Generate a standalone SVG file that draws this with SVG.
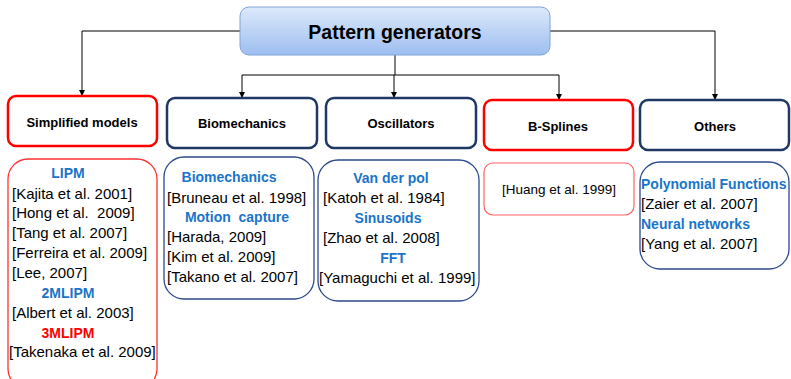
<svg xmlns="http://www.w3.org/2000/svg" width="791" height="379" viewBox="0 0 791 379">
<style>
text{font-family:"Liberation Sans",Arial,sans-serif;fill:#000}
.h2{font-size:13px;font-weight:bold;text-anchor:middle}
.ref{font-size:15px}
.hd{font-size:14px;font-weight:bold;fill:#1a75c9}
.mid{text-anchor:middle}
.navy2{fill:#fff;stroke:#1f3864;stroke-width:2.5}
.red2{fill:#fff;stroke:#ff0000;stroke-width:2.5}
.navy3{fill:#fff;stroke:#2b4a8b;stroke-width:1.3}
.red3{fill:#fff;stroke:#ff3030;stroke-width:1.3}
.conn{fill:none;stroke:#000;stroke-width:1}
</style>
<defs>
<linearGradient id="g" x1="0" y1="0" x2="0" y2="1">
<stop offset="0" stop-color="#dde9fb"/>
<stop offset="1" stop-color="#9dbef0"/>
</linearGradient>
<marker id="a" viewBox="0 0 10 10" refX="10" refY="5" markerWidth="6" markerHeight="6" orient="auto" markerUnits="userSpaceOnUse">
<path d="M0,0 L10,5 L0,10 z" fill="#000"/>
</marker>
</defs>
<g id="connectors">
<path class="conn" d="M240,31 H82 V96" marker-end="url(#a)"/>
<path class="conn" d="M550,31 H715 V100" marker-end="url(#a)"/>
<path class="conn" d="M395,55 V75"/>
<path class="conn" d="M242,75 H559"/>
<path class="conn" d="M242,75 V98" marker-end="url(#a)"/>
<path class="conn" d="M394,75 V98" marker-end="url(#a)"/>
<path class="conn" d="M559,75 V100" marker-end="url(#a)"/>
</g>
<g id="root">
<rect x="240" y="7" width="310" height="48" rx="9" fill="url(#g)" stroke="#7fa4d8" stroke-width="1"/>
<text x="395" y="39" font-size="19.5" font-weight="bold" text-anchor="middle">Pattern generators</text>
</g>
<g id="simplified">
<rect class="red2" x="8" y="96" width="149" height="50" rx="8"/>
<text class="h2" x="82" y="127">Simplified models</text>
</g>
<g id="biomechanics">
<rect class="navy2" x="167" y="98" width="150" height="50" rx="8"/>
<text class="h2" x="242" y="128">Biomechanics</text>
</g>
<g id="oscillators">
<rect class="navy2" x="326" y="98" width="150" height="50" rx="8"/>
<text class="h2" x="401" y="128">Oscillators</text>
</g>
<g id="bsplines">
<rect class="red2" x="484" y="100" width="149" height="50" rx="8"/>
<text class="h2" x="558" y="131">B-Splines</text>
</g>
<g id="others">
<rect class="navy2" x="640" y="100" width="149" height="50" rx="8"/>
<text class="h2" x="715" y="131">Others</text>
</g>
<g id="simplified-list">
<rect class="red3" x="8" y="159" width="149" height="230" rx="20"/>
<text class="hd mid" x="68" y="178">LIPM</text>
<text class="ref" x="12" y="199">[Kajita et al. 2001]</text>
<text class="ref" x="12" y="218" xml:space="preserve">[Hong et al.  2009]</text>
<text class="ref" x="12" y="238">[Tang et al. 2007]</text>
<text class="ref" x="12" y="258">[Ferreira et al. 2009]</text>
<text class="ref" x="12" y="278">[Lee, 2007]</text>
<text class="hd mid" x="68" y="298">2MLIPM</text>
<text class="ref" x="12" y="318">[Albert et al. 2003]</text>
<text class="hd mid" x="68" y="338" style="fill:#ff0000">3MLIPM</text>
<text class="ref" x="9" y="357">[Takenaka et al. 2009]</text>
</g>
<g id="biomechanics-list">
<rect class="navy3" x="164" y="157" width="150" height="142" rx="20"/>
<text class="hd mid" x="229" y="182">Biomechanics</text>
<text class="ref" x="167" y="203">[Bruneau et al. 1998]</text>
<text class="hd mid" x="237" y="222" xml:space="preserve">Motion  capture</text>
<text class="ref" x="167" y="242">[Harada, 2009]</text>
<text class="ref" x="167" y="262">[Kim et al. 2009]</text>
<text class="ref" x="167" y="282">[Takano et al. 2007]</text>
</g>
<g id="oscillators-list">
<rect class="navy3" x="318" y="160" width="161" height="141" rx="20"/>
<text class="hd mid" x="391" y="183">Van der pol</text>
<text class="ref" x="323" y="203">[Katoh et al. 1984]</text>
<text class="hd mid" x="388" y="223">Sinusoids</text>
<text class="ref" x="323" y="243">[Zhao et al. 2008]</text>
<text class="hd mid" x="393" y="263">FFT</text>
<text class="ref" x="319" y="283">[Yamaguchi et al. 1999]</text>
</g>
<g id="bsplines-list">
<rect x="484" y="163" width="150" height="52" rx="9" fill="#fff" stroke="#ff6060" stroke-width="1.2"/>
<text x="559" y="194" font-size="13.5" text-anchor="middle">[Huang et al. 1999]</text>
</g>
<g id="others-list">
<rect class="navy3" x="640" y="162" width="149" height="107" rx="20"/>
<text class="hd" x="641" y="189">Polynomial Functions</text>
<text class="ref" x="641" y="209">[Zaier et al. 2007]</text>
<text class="hd" x="641" y="229">Neural networks</text>
<text class="ref" x="641" y="249">[Yang et al. 2007]</text>
</g>
</svg>
